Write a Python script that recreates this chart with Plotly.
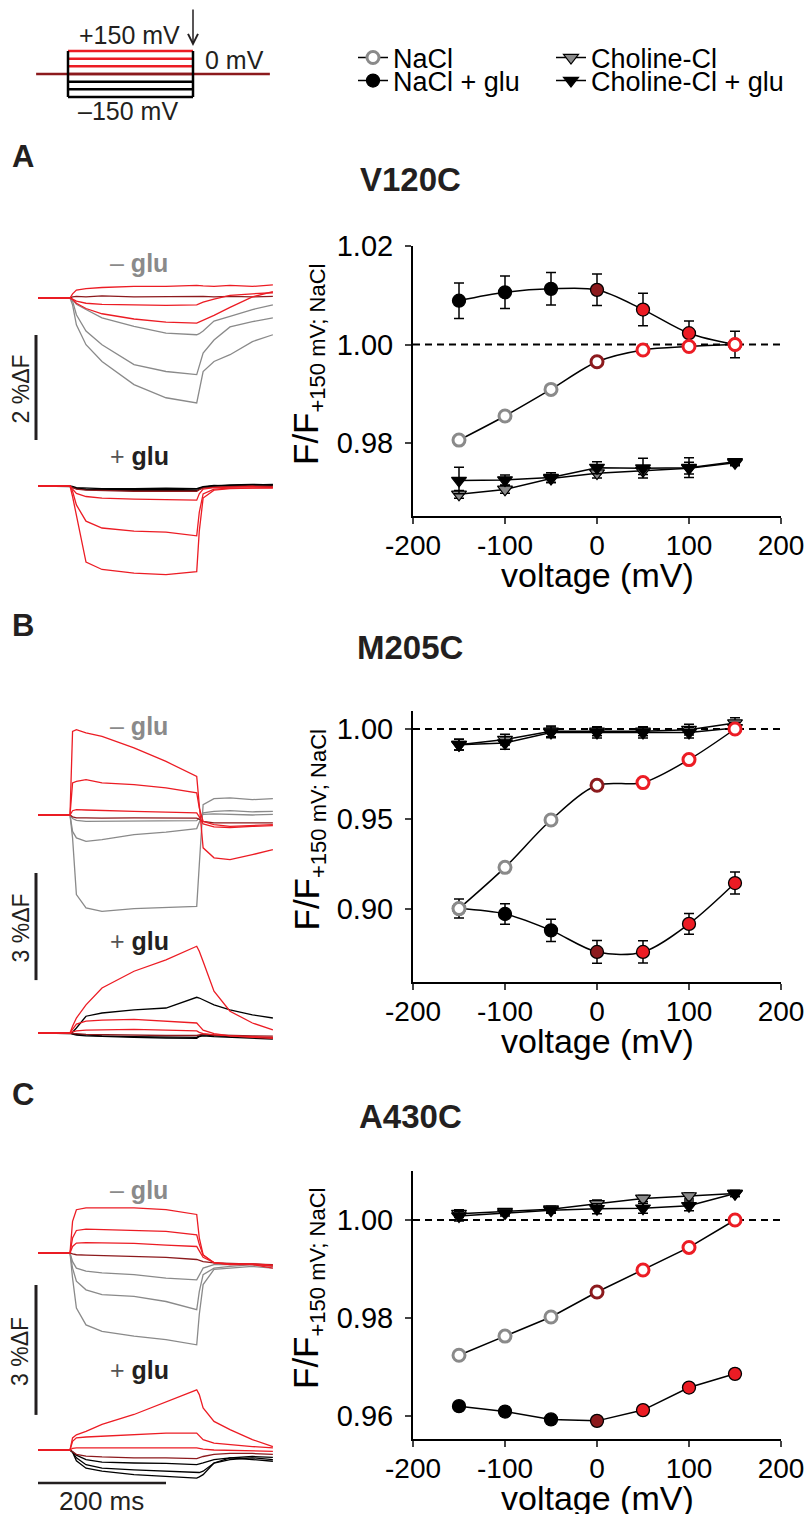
import plotly.graph_objects as go

# ======================= DATA =======================
VOLTAGES = [-150, -100, -50, 0, 50, 100, 150]
X_TICKS = [-200, -100, 0, 100, 200]
X_TICK_LABELS = ["-200", "-100", "0", "100", "200"]

A_Y_TICKS = [0.98, 1.00, 1.02]
B_Y_TICKS = [0.90, 0.95, 1.00]
C_Y_TICKS = [0.96, 0.98, 1.00]

# Panel A  (V120C)
A_NACL = [0.9806, 0.9855, 0.9909, 0.9965, 0.9989, 0.9996, 1.0000]
A_NACL_ERR = [0.0004, 0.0004, 0.0004, 0.0004, 0.0004, 0.0004, 0.0004]
A_GLU = [1.0089, 1.0106, 1.0113, 1.0111, 1.0071, 1.0023, 1.0000]
A_GLU_ERR = [0.0036, 0.0033, 0.0033, 0.0032, 0.0033, 0.0025, 0.0027]
A_CHO = [0.9696, 0.9706, 0.9728, 0.9739, 0.9744, 0.9749, 0.9760]
A_CHO_ERR = [0.0008, 0.0008, 0.0008, 0.0010, 0.0008, 0.0012, 0.0006]
A_CHOGLU = [0.9724, 0.9725, 0.9730, 0.9750, 0.9749, 0.9750, 0.9762]
A_CHOGLU_ERR = [0.0027, 0.0010, 0.0010, 0.0012, 0.0020, 0.0020, 0.0006]

# Panel B  (M205C)
B_NACL = [0.9002, 0.9231, 0.9494, 0.9687, 0.9702, 0.9830, 1.0000]
B_NACL_ERR = [0.0010, 0.0010, 0.0010, 0.0010, 0.0010, 0.0010, 0.0010]
B_GLU = [0.9002, 0.8972, 0.8881, 0.8761, 0.8761, 0.8917, 0.9144]
B_GLU_ERR = [0.0053, 0.0057, 0.0062, 0.0063, 0.0062, 0.0058, 0.0061]
B_CHO = [0.9913, 0.9941, 0.9987, 0.9987, 0.9987, 0.9996, 1.0033]
B_CHO_ERR = [0.0030, 0.0030, 0.0030, 0.0025, 0.0025, 0.0030, 0.0030]
B_CHOGLU = [0.9913, 0.9922, 0.9981, 0.9980, 0.9980, 0.9980, 1.0006]
B_CHOGLU_ERR = [0.0030, 0.0035, 0.0030, 0.0030, 0.0030, 0.0030, 0.0030]

# Panel C  (A430C)
C_NACL = [0.9724, 0.9763, 0.9802, 0.9853, 0.9898, 0.9944, 1.0000]
C_NACL_ERR = [0.0003, 0.0003, 0.0003, 0.0003, 0.0003, 0.0003, 0.0003]
C_GLU = [0.9620, 0.9609, 0.9593, 0.9590, 0.9612, 0.9658, 0.9686]
C_GLU_ERR = [0.0009, 0.0009, 0.0009, 0.0008, 0.0008, 0.0008, 0.0009]
C_CHO = [1.0013, 1.0017, 1.0022, 1.0033, 1.0044, 1.0049, 1.0054]
C_CHO_ERR = [0.0008, 0.0006, 0.0006, 0.0008, 0.0006, 0.0006, 0.0006]
C_CHOGLU = [1.0008, 1.0014, 1.0020, 1.0023, 1.0024, 1.0029, 1.0054]
C_CHOGLU_ERR = [0.0010, 0.0006, 0.0006, 0.0010, 0.0010, 0.0010, 0.0006]

# Fluorescence traces (%dF) sampled at T_MS; rows ordered like VOLTAGES
T_MS = [0, 50, 54, 60, 75, 100, 150, 200, 248, 252, 258, 275, 300, 335, 367]

A_TRACES_NOGLU = [
    [0, 0, -0.13, -0.51, -0.89, -1.21, -1.65, -1.90, -2.00, -1.78, -1.40, -1.21, -1.08, -0.83, -0.70],
    [0, 0, -0.06, -0.32, -0.63, -0.89, -1.27, -1.40, -1.46, -1.30, -1.05, -0.80, -0.55, -0.45, -0.38],
    [0, 0, -0.03, -0.12, -0.22, -0.38, -0.54, -0.67, -0.70, -0.68, -0.63, -0.44, -0.35, -0.22, -0.13],
    [0, 0, 0.02, 0.03, 0.02, 0.04, 0.02, 0.03, 0.03, 0.04, 0.03, 0.02, 0.03, 0.02, 0.03],
    [0, 0, -0.03, -0.10, -0.20, -0.30, -0.40, -0.46, -0.48, -0.46, -0.42, -0.33, -0.18, 0.02, 0.12],
    [0, 0, -0.02, -0.06, -0.10, -0.12, -0.13, -0.14, -0.13, -0.11, -0.08, -0.02, 0.05, 0.08, 0.10],
    [0, 0, 0.08, 0.15, 0.18, 0.20, 0.22, 0.22, 0.24, 0.24, 0.23, 0.22, 0.24, 0.22, 0.25],
]
A_TRACES_GLU = [
    [0, 0, -0.02, -0.05, -0.07, -0.08, -0.09, -0.08, -0.09, -0.06, -0.03, 0.00, 0.02, 0.03, 0.02],
    [0, 0, -0.02, -0.04, -0.06, -0.07, -0.06, -0.07, -0.06, -0.04, -0.02, 0.00, 0.01, 0.02, 0.03],
    [0, 0, -0.01, -0.03, -0.04, -0.05, -0.05, -0.04, -0.05, -0.03, -0.01, 0.01, 0.00, 0.02, 0.01],
    [0, 0, -0.03, -0.06, -0.08, -0.09, -0.10, -0.10, -0.10, -0.07, -0.04, -0.02, -0.01, 0.00, -0.01],
    [0, 0, -0.06, -0.14, -0.20, -0.23, -0.25, -0.26, -0.27, -0.15, -0.06, -0.03, -0.02, -0.01, -0.02],
    [0, 0, -0.10, -0.36, -0.67, -0.80, -0.86, -0.88, -0.95, -0.50, -0.15, -0.06, -0.04, -0.03, -0.03],
    [0, 0, -0.20, -0.55, -1.45, -1.59, -1.66, -1.69, -1.63, -0.86, -0.23, -0.08, -0.05, -0.04, -0.04],
]

B_TRACES_NOGLU = [
    [0, 0, -0.64, -2.23, -2.60, -2.70, -2.62, -2.58, -2.56, -1.40, 0.29, 0.46, 0.48, 0.43, 0.46],
    [0, 0, -0.46, -0.64, -0.74, -0.69, -0.55, -0.48, -0.38, -0.20, 0.06, 0.10, 0.12, 0.09, 0.10],
    [0, 0, -0.10, -0.15, -0.18, -0.18, -0.17, -0.18, -0.16, -0.08, 0.02, 0.03, 0.01, 0.00, 0.02],
    [0, 0, -0.05, -0.08, -0.08, -0.09, -0.08, -0.08, -0.09, -0.12, -0.18, -0.22, -0.22, -0.20, -0.22],
    [0, 0, 0.12, 0.15, 0.14, 0.12, 0.10, 0.08, 0.06, -0.05, -0.25, -0.33, -0.35, -0.32, -0.30],
    [0, 0, 0.90, 0.94, 0.99, 0.90, 0.85, 0.76, 0.62, 0.20, -0.18, -0.27, -0.32, -0.30, -0.27],
    [0, 0, 2.34, 2.39, 2.30, 2.20, 1.88, 1.50, 1.08, 0.20, -0.92, -1.20, -1.25, -1.11, -0.97],
]
B_TRACES_GLU = [
    [0, 0, 0.02, 0.14, 0.47, 0.56, 0.65, 0.70, 1.00, 0.98, 0.93, 0.79, 0.65, 0.51, 0.42],
    [0, 0, -0.03, -0.06, -0.08, -0.10, -0.12, -0.14, -0.15, -0.10, -0.08, -0.10, -0.12, -0.15, -0.17],
    [0, 0, -0.02, -0.04, -0.06, -0.08, -0.10, -0.11, -0.12, -0.08, -0.05, -0.07, -0.10, -0.12, -0.14],
    [0, 0, 0.00, -0.02, -0.04, -0.05, -0.06, -0.07, -0.07, -0.05, -0.03, -0.05, -0.07, -0.08, -0.09],
    [0, 0, 0.03, 0.06, 0.08, 0.09, 0.10, 0.08, 0.06, 0.02, -0.02, -0.05, -0.08, -0.10, -0.12],
    [0, 0, 0.10, 0.25, 0.33, 0.36, 0.38, 0.33, 0.28, 0.20, 0.08, -0.02, -0.08, -0.12, -0.15],
    [0, 0, 0.19, 0.42, 0.79, 1.26, 1.73, 2.05, 2.43, 2.29, 2.00, 1.17, 0.61, 0.28, 0.09],
]

C_TRACES_NOGLU = [
    [0, 0, -0.58, -1.27, -1.66, -1.81, -1.92, -2.00, -2.12, -1.42, -0.73, -0.38, -0.35, -0.31, -0.35],
    [0, 0, -0.35, -0.65, -0.85, -0.96, -1.00, -1.12, -1.31, -0.89, -0.50, -0.35, -0.31, -0.27, -0.31],
    [0, 0, -0.20, -0.35, -0.42, -0.46, -0.50, -0.58, -0.62, -0.50, -0.35, -0.27, -0.27, -0.25, -0.29],
    [0, 0, -0.02, -0.04, -0.05, -0.06, -0.07, -0.10, -0.15, -0.17, -0.20, -0.23, -0.24, -0.25, -0.27],
    [0, 0, 0.15, 0.23, 0.24, 0.23, 0.22, 0.18, 0.15, 0.05, -0.10, -0.22, -0.25, -0.25, -0.28],
    [0, 0, 0.35, 0.52, 0.55, 0.54, 0.52, 0.50, 0.42, 0.20, -0.05, -0.22, -0.26, -0.26, -0.30],
    [0, 0, 0.73, 1.00, 1.04, 1.04, 1.04, 1.00, 0.89, 0.35, -0.04, -0.23, -0.27, -0.27, -0.35],
]
C_TRACES_GLU = [
    [0, 0, -0.05, -0.25, -0.42, -0.49, -0.57, -0.61, -0.65, -0.62, -0.57, -0.30, -0.18, -0.22, -0.26],
    [0, 0, -0.05, -0.18, -0.34, -0.42, -0.46, -0.49, -0.53, -0.52, -0.49, -0.30, -0.22, -0.18, -0.22],
    [0, 0, -0.04, -0.12, -0.22, -0.28, -0.30, -0.31, -0.34, -0.33, -0.30, -0.22, -0.18, -0.15, -0.17],
    [0, 0, -0.04, -0.10, -0.14, -0.16, -0.18, -0.18, -0.20, -0.18, -0.15, -0.10, -0.08, -0.08, -0.10],
    [0, 0, 0.04, 0.05, 0.05, 0.05, 0.05, 0.06, 0.05, 0.04, 0.02, 0.00, -0.01, -0.02, -0.03],
    [0, 0, 0.20, 0.28, 0.30, 0.32, 0.35, 0.39, 0.39, 0.32, 0.24, 0.16, 0.12, 0.08, 0.05],
    [0, 0, 0.28, 0.35, 0.43, 0.59, 0.82, 1.12, 1.39, 1.28, 0.97, 0.66, 0.47, 0.24, 0.08],
]

# Voltage protocol (schematic)
PROTO_PULSE_MS = [0, 200]
PROTO_HOLD_MS = [-51, 323]
PROTO_HOLD_MV = 0

SCALE_A_PCT = 2
SCALE_BC_PCT = 3
SCALE_T_MS = 200

# ======================= STYLE / LAYOUT =======================
W, H = 812, 1514
FONT = "Liberation Sans, Arial, Helvetica, sans-serif"
RED = "#ec1c24"
DRED = "#8c1a1d"
GRAY = "#8a8a8a"
INK = "#231f20"


def fx(p):
    return p / W


def fy(p):
    return 1 - p / H


def volt_colors(neg):
    return [neg if v < 0 else (DRED if v == 0 else RED) for v in VOLTAGES]


fig = go.Figure()
layout = dict(
    width=W, height=H, margin=dict(l=0, r=0, t=0, b=0, autoexpand=False),
    paper_bgcolor="white", plot_bgcolor="rgba(0,0,0,0)",
    font=dict(family=FONT, color="black"),
    showlegend=True,
)
annotations = []
shapes = []

# ---------- I-V plots ----------
PLOT_X = (405, 773)
PLOTS = [
    ("", 238, 508, [0.9652, 1.02], A_Y_TICKS, (A_NACL, A_NACL_ERR, A_GLU, A_GLU_ERR, A_CHO, A_CHO_ERR, A_CHOGLU, A_CHOGLU_ERR), "V120C", 171, "A", True, "spline"),
    ("2", 703, 974, [0.8594, 1.01], B_Y_TICKS, (B_NACL, B_NACL_ERR, B_GLU, B_GLU_ERR, B_CHO, B_CHO_ERR, B_CHOGLU, B_CHOGLU_ERR), "M205C", 639, "B", False, "spline"),
    ("3", 1163, 1431, [0.9553, 1.01], C_Y_TICKS, (C_NACL, C_NACL_ERR, C_GLU, C_GLU_ERR, C_CHO, C_CHO_ERR, C_CHOGLU, C_CHOGLU_ERR), "A430C", 1108, "C", False, "linear"),
]
LETTER_Y = {"A": 149, "B": 617, "C": 1086}
ERR_STYLE = dict(type="data", color="black", thickness=1.5, width=5)

for pid, top, bot, yr, yt, data, title, title_y, letter, show, shp in PLOTS:
    xa, ya = "x" + pid, "y" + pid
    layout["xaxis" + pid] = dict(
        domain=[fx(PLOT_X[0]), fx(PLOT_X[1])], range=[-200, 200], anchor=ya,
        tickvals=X_TICKS, ticktext=X_TICK_LABELS, ticks="outside", ticklen=6, tickwidth=2,
        showline=True, linewidth=2, linecolor="black", showgrid=False, zeroline=False,
        tickfont=dict(size=28, color="black"), ticklabelstandoff=-3, fixedrange=True,
    )
    layout["yaxis" + pid] = dict(
        domain=[fy(bot), fy(top)], range=yr, anchor=xa,
        tickvals=yt, tickformat=".2f", ticks="outside", ticklen=6, tickwidth=2,
        showline=True, linewidth=2, linecolor="black", showgrid=False, zeroline=False,
        tickfont=dict(size=29, color="black"), ticklabelstandoff=6,
    )
    nacl, nacl_e, glu, glu_e, cho, cho_e, choglu, choglu_e = data
    fig.add_trace(go.Scatter(
        x=VOLTAGES, y=cho, xaxis=xa, yaxis=ya, mode="lines+markers", name="Choline-Cl",
        legend="legend2", showlegend=show, cliponaxis=False,
        line=dict(color="black", width=1.5),
        marker=dict(symbol="triangle-down", size=13, color=GRAY, line=dict(color="black", width=1.2)),
        error_y=dict(array=cho_e, **ERR_STYLE),
    ))
    fig.add_trace(go.Scatter(
        x=VOLTAGES, y=choglu, xaxis=xa, yaxis=ya, mode="lines+markers", name="Choline-Cl + glu",
        legend="legend4", showlegend=show, cliponaxis=False,
        line=dict(color="black", width=1.5),
        marker=dict(symbol="triangle-down", size=13, color="black", line=dict(color="black", width=1.2)),
        error_y=dict(array=choglu_e, **ERR_STYLE),
    ))
    fig.add_trace(go.Scatter(
        x=VOLTAGES, y=glu, xaxis=xa, yaxis=ya, mode="lines+markers", name="NaCl + glu",
        legend="legend3", showlegend=show, cliponaxis=False,
        line=dict(color="black", width=1.5, shape=shp, smoothing=0.9),
        marker=dict(symbol="circle", size=13, color=volt_colors("black"), line=dict(color="black", width=1.3)),
        error_y=dict(array=glu_e, **ERR_STYLE),
    ))
    fig.add_trace(go.Scatter(
        x=VOLTAGES, y=nacl, xaxis=xa, yaxis=ya, mode="lines+markers", name="NaCl",
        legend="legend", showlegend=show, cliponaxis=False,
        line=dict(color="black", width=1.5, shape=shp, smoothing=0.9),
        marker=dict(symbol="circle", size=12, color="white", line=dict(color=volt_colors(GRAY), width=3)),
        error_y=dict(array=nacl_e, **ERR_STYLE),
    ))
    shapes.append(dict(type="line", xref=xa + " domain", x0=0, x1=1, yref=ya, y0=1.0, y1=1.0,
                       line=dict(color="black", width=2, dash="7px,5px"), layer="below"))
    annotations.append(dict(text="voltage (mV)", x=fx(589), y=fy(bot + 59), xref="paper", yref="paper",
                            showarrow=False, xanchor="center", yanchor="middle", font=dict(size=34)))
    annotations.append(dict(text='F/F<sub><span style="font-size:22px">+150 mV; NaCl</span></sub>',
                            x=fx(300), y=fy((top + bot) / 2 - 16), xref="paper", yref="paper",
                            showarrow=False, textangle=-90, xanchor="center", yanchor="middle",
                            font=dict(size=35)))
    annotations.append(dict(text="<b>" + title + "</b>", x=fx(402), y=fy(title_y), xref="paper", yref="paper",
                            showarrow=False, xanchor="center", yanchor="middle", font=dict(size=33, color=INK)))
    annotations.append(dict(text="<b>" + letter + "</b>", x=fx(15), y=fy(LETTER_Y[letter]), xref="paper", yref="paper",
                            showarrow=False, xanchor="center", yanchor="middle", font=dict(size=31, color=INK)))

# ---------- fluorescence trace panels ----------
T0_PX, T_SCALE = 30, 0.64
TX0, TX1 = 8, 282
TRACE_PANELS = [
    (4, 4, 5, 240, 600, 290, 478, 52.5, A_TRACES_NOGLU, A_TRACES_GLU, SCALE_A_PCT, (327, 432), 255, 448),
    (5, 6, 7, 700, 1040, 807, 1025, 35.7, B_TRACES_NOGLU, B_TRACES_GLU, SCALE_BC_PCT, (865, 972), 718, 933),
    (6, 8, 9, 1160, 1492, 1245, 1442, 43.3, C_TRACES_NOGLU, C_TRACES_GLU, SCALE_BC_PCT, (1277, 1407), 1182, 1362),
]
for xid, y1, y2, top, bot, b1, b2, s, tr_no, tr_glu, sc, bar, lab1, lab2 in TRACE_PANELS:
    xa, ya1, ya2 = f"x{xid}", f"y{y1}", f"y{y2}"
    layout[f"xaxis{xid}"] = dict(domain=[fx(TX0), fx(TX1)],
                                 range=[(TX0 - T0_PX) / T_SCALE, (TX1 - T0_PX) / T_SCALE],
                                 visible=False, anchor=ya1, fixedrange=True)
    layout[f"yaxis{y1}"] = dict(domain=[fy(bot), fy(top)], range=[(b1 - bot) / s, (b1 - top) / s],
                                visible=False, anchor=xa)
    layout[f"yaxis{y2}"] = dict(range=[(b2 - bot) / s, (b2 - top) / s], visible=False,
                                anchor=xa, overlaying=ya1)
    for vals, col in zip(tr_no, volt_colors(GRAY)):
        fig.add_trace(go.Scatter(x=T_MS, y=vals, xaxis=xa, yaxis=ya1, mode="lines", showlegend=False,
                                 line=dict(color=col, width=1.3), hoverinfo="skip"))
    for vals, col in zip(tr_glu, volt_colors("black")):
        fig.add_trace(go.Scatter(x=T_MS, y=vals, xaxis=xa, yaxis=ya2, mode="lines", showlegend=False,
                                 line=dict(color=col, width=1.3), hoverinfo="skip"))
    y_top_bar = (b1 - bar[0]) / s
    shapes.append(dict(type="line", xref=xa, yref=ya1, x0=(28 - T0_PX) / T_SCALE, x1=(28 - T0_PX) / T_SCALE,
                       y0=y_top_bar, y1=y_top_bar - sc, line=dict(color=INK, width=3)))
    annotations.append(dict(text=f"{sc} %ΔF", x=fx(12), y=fy((bar[0] + bar[1]) / 2 + 2), xref="paper", yref="paper",
                            showarrow=False, textangle=-90, xanchor="center", yanchor="middle",
                            font=dict(size=23, color=INK)))
    annotations.append(dict(text="– <b>glu</b>", x=fx(131), y=fy(lab1), xref="paper", yref="paper",
                            showarrow=False, xanchor="center", yanchor="middle", font=dict(size=25, color=GRAY)))
    annotations.append(dict(text='<span style="color:#555">+</span> <b>glu</b>', x=fx(131), y=fy(lab2),
                            xref="paper", yref="paper", showarrow=False, xanchor="center", yanchor="middle",
                            font=dict(size=25, color=INK)))
    if xid == 6:
        yb = (b2 - 1475) / s
        shapes.append(dict(type="line", xref=xa, yref=ya2, x0=0, x1=SCALE_T_MS, y0=yb, y1=yb,
                           line=dict(color=INK, width=2.5)))
        annotations.append(dict(text=f"{SCALE_T_MS} ms", x=fx(93), y=fy(1493), xref="paper", yref="paper",
                                showarrow=False, xanchor="center", yanchor="middle", font=dict(size=26, color=INK)))

# ---------- voltage protocol ----------
P_T0, P_TS = 60, 0.625
P_V0, P_VS = 66, 0.1533
layout["xaxis7"] = dict(domain=[fx(20), fx(270)], range=[(20 - P_T0) / P_TS, (270 - P_T0) / P_TS],
                        visible=False, anchor="y10", fixedrange=True)
layout["yaxis10"] = dict(domain=[fy(96), fy(36)], range=[(P_V0 - 96) / P_VS, (P_V0 - 36) / P_VS],
                         visible=False, anchor="x7")
fig.add_trace(go.Scatter(x=PROTO_HOLD_MS, y=[PROTO_HOLD_MV, PROTO_HOLD_MV], xaxis="x7", yaxis="y10",
                         mode="lines", showlegend=False, line=dict(color=DRED, width=2.5), hoverinfo="skip"))
for v, col in zip(VOLTAGES, volt_colors("black")):
    fig.add_trace(go.Scatter(x=PROTO_PULSE_MS, y=[v, v], xaxis="x7", yaxis="y10", mode="lines",
                             showlegend=False, line=dict(color=col, width=2.5), hoverinfo="skip"))
for t in PROTO_PULSE_MS:
    fig.add_trace(go.Scatter(x=[t, t], y=[min(VOLTAGES), max(VOLTAGES)], xaxis="x7", yaxis="y10", mode="lines",
                             showlegend=False, line=dict(color="black", width=2.5), hoverinfo="skip"))
annotations += [
    dict(text="+150 mV", x=fx(121), y=fy(27), xref="paper", yref="paper", showarrow=False,
         xanchor="center", yanchor="middle", font=dict(size=25, color=INK)),
    dict(text="0 mV", x=fx(195), y=fy(52), xref="paper", yref="paper", showarrow=False,
         xanchor="left", yanchor="middle", font=dict(size=25, color=INK)),
    dict(text="–150 mV", x=fx(120), y=fy(103), xref="paper", yref="paper", showarrow=False,
         xanchor="center", yanchor="middle", font=dict(size=25, color=INK)),
    dict(text="", x=fx(185), y=fy(38), xref="paper", yref="paper", showarrow=True, ax=0, ay=-40,
         arrowhead=5, arrowsize=1.3, arrowwidth=1.5, arrowcolor=INK),
]

# ---------- legends (2 x 2 grid, one entry each) ----------
leg_common = dict(orientation="v", xanchor="left", yanchor="middle",
                  font=dict(size=27, color="black"), bgcolor="rgba(0,0,0,0)", borderwidth=0,
                  itemsizing="trace")
LEG_COL_X = (345, 543)
LEG_ROW_Y = (50, 73)
layout["legend"] = dict(x=fx(LEG_COL_X[0]), y=fy(LEG_ROW_Y[0]), **leg_common)
layout["legend2"] = dict(x=fx(LEG_COL_X[1]), y=fy(LEG_ROW_Y[0]), **leg_common)
layout["legend3"] = dict(x=fx(LEG_COL_X[0]), y=fy(LEG_ROW_Y[1]), **leg_common)
layout["legend4"] = dict(x=fx(LEG_COL_X[1]), y=fy(LEG_ROW_Y[1]), **leg_common)

layout["annotations"] = annotations
layout["shapes"] = shapes
fig.update_layout(**layout)
fig.write_html("out.html")
